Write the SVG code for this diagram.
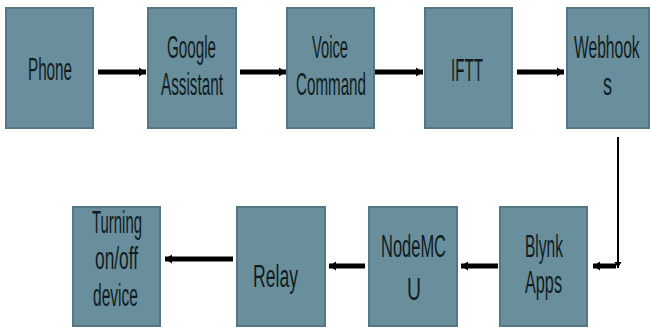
<svg xmlns="http://www.w3.org/2000/svg" width="651" height="332" viewBox="0 0 651 332">
<style>
.box{fill:#6a8f9c;stroke:#557784;stroke-width:2}
.t{font-family:"Liberation Sans",Arial,sans-serif;font-size:31px;fill:#101c22}
.thick{stroke:#000;stroke-width:5;fill:none}
.thin{stroke:#000;stroke-width:2;fill:none}
</style>
<defs>
<marker id="ah" markerUnits="userSpaceOnUse" markerWidth="8" markerHeight="10" refX="7" refY="5" orient="auto">
<path d="M0,0.5 L7,5 L0,9.5 Z" fill="#000"/>
</marker>
<marker id="ahs" markerUnits="userSpaceOnUse" markerWidth="8" markerHeight="8" refX="6" refY="4" orient="auto">
<path d="M0,0.5 L6,4 L0,7.5 Z" fill="#000"/>
</marker>
</defs>
<rect width="651" height="332" fill="#fff"/>
<g id="connectors">
<line class="thick" x1="98" y1="72" x2="146" y2="72" marker-end="url(#ah)"/>
<line class="thick" x1="240" y1="72" x2="286" y2="72" marker-end="url(#ah)"/>
<line class="thick" x1="375" y1="72" x2="423" y2="72" marker-end="url(#ah)"/>
<line class="thick" x1="517" y1="72" x2="564" y2="72" marker-end="url(#ah)"/>
<line class="thin" x1="618" y1="137" x2="618" y2="268" marker-end="url(#ahs)"/>
<line class="thick" x1="616" y1="266" x2="593" y2="266" marker-end="url(#ah)"/>
<line class="thick" x1="498" y1="266" x2="461" y2="266" marker-end="url(#ah)"/>
<line class="thick" x1="365" y1="266" x2="329" y2="266" marker-end="url(#ah)"/>
<line class="thick" x1="233" y1="259" x2="165" y2="259" marker-end="url(#ah)"/>
</g>
<g id="phone"><rect class="box" x="6" y="8" width="87" height="120"/>
<text class="t" x="28" y="80" textLength="44" lengthAdjust="spacingAndGlyphs">Phone</text></g>
<g id="google"><rect class="box" x="148" y="8" width="88" height="120"/>
<text class="t" x="167" y="58" textLength="49" lengthAdjust="spacingAndGlyphs">Google</text>
<text class="t" x="161" y="95" textLength="62" lengthAdjust="spacingAndGlyphs">Assistant</text></g>
<g id="voice"><rect class="box" x="287" y="8" width="87" height="120"/>
<text class="t" x="312" y="58" textLength="36" lengthAdjust="spacingAndGlyphs">Voice</text>
<text class="t" x="296" y="95" textLength="70" lengthAdjust="spacingAndGlyphs">Command</text></g>
<g id="ifttt"><rect class="box" x="425" y="8" width="87" height="120"/>
<text class="t" x="451" y="81" textLength="32" lengthAdjust="spacingAndGlyphs">IFTT</text></g>
<g id="webhooks"><rect class="box" x="567" y="8" width="82" height="120"/>
<text class="t" transform="translate(574,58) scale(0.504,1)" x="0" y="0">Webhook</text>
<text class="t" x="603" y="95" textLength="9" lengthAdjust="spacingAndGlyphs">s</text></g>
<g id="blynk"><rect class="box" x="500" y="207" width="87" height="119"/>
<text class="t" x="525" y="257" textLength="38" lengthAdjust="spacingAndGlyphs">Blynk</text>
<text class="t" x="525" y="293" textLength="37" lengthAdjust="spacingAndGlyphs">Apps</text></g>
<g id="nodemcu"><rect class="box" x="369" y="207" width="88" height="119"/>
<text class="t" x="381" y="257" textLength="65" lengthAdjust="spacingAndGlyphs">NodeMC</text>
<text class="t" x="407" y="300" textLength="14" lengthAdjust="spacingAndGlyphs">U</text></g>
<g id="relay"><rect class="box" x="237" y="207" width="88" height="119"/>
<text class="t" x="253" y="287" textLength="45" lengthAdjust="spacingAndGlyphs">Relay</text></g>
<g id="turning"><rect class="box" x="73" y="207" width="87" height="119"/>
<text class="t" x="92" y="233" textLength="50" lengthAdjust="spacingAndGlyphs">Turning</text>
<text class="t" x="95" y="269" textLength="43" lengthAdjust="spacingAndGlyphs">on/off</text>
<text class="t" x="93" y="306" textLength="45" lengthAdjust="spacingAndGlyphs">device</text></g>
</svg>
